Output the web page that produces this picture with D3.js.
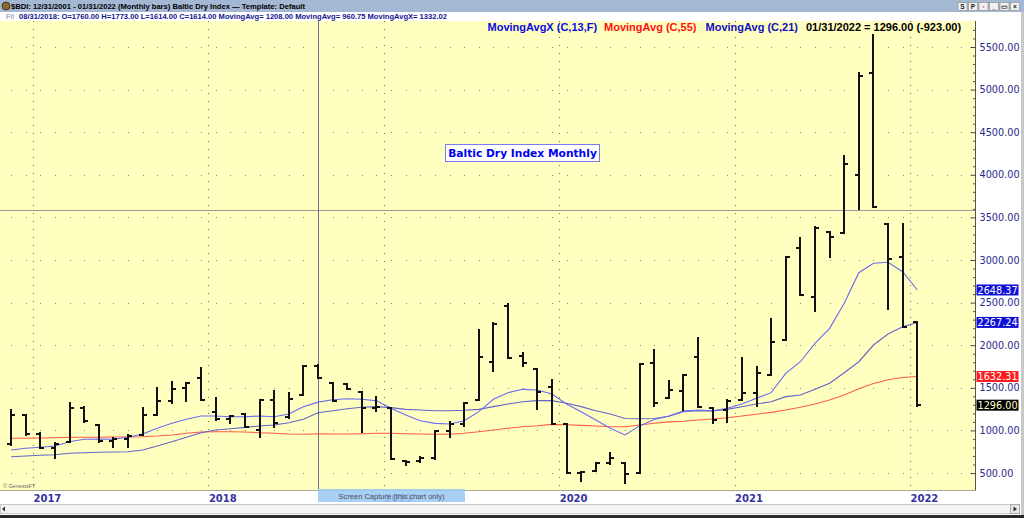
<!DOCTYPE html>
<html><head><meta charset="utf-8">
<script src="https://cdn.jsdelivr.net/npm/d3@7"></script>
<style>
html,body{margin:0;padding:0;background:#fff;overflow:hidden}
svg{display:block;font-family:"Liberation Sans",Arial,sans-serif}
</style></head><body>
<svg id="c" width="1024" height="518"></svg>
<script>
// ---------- data (monthly bars) ----------
const months = ["2016-11","2016-12",
 "2017-01","2017-02","2017-03","2017-04","2017-05","2017-06","2017-07","2017-08","2017-09","2017-10","2017-11","2017-12",
 "2018-01","2018-02","2018-03","2018-04","2018-05","2018-06","2018-07","2018-08","2018-09","2018-10","2018-11","2018-12",
 "2019-01","2019-02","2019-03","2019-04","2019-05","2019-06","2019-07","2019-08","2019-09","2019-10","2019-11","2019-12",
 "2020-01","2020-02","2020-03","2020-04","2020-05","2020-06","2020-07","2020-08","2020-09","2020-10","2020-11","2020-12",
 "2021-01","2021-02","2021-03","2021-04","2021-05","2021-06","2021-07","2021-08","2021-09","2021-10","2021-11","2021-12",
 "2022-01"];
const opens  = [840,1181, 961,795,868,1260,1063,875,900,946,1181,1340,1494,1611,
 1220,1130,1192,1005,1357,1157,1415,1760,1560,1540,1455,1260,
 1267,641,640,680,990,1075,1357,1807,2460,1870,1717,1513,
 1075,504,520,620,621,496,1787,1376,1466,1857,1260,1239,
 1357,1435,1650,2061,3145,2562,3324,3313,3997,5198,3418,3031,
 2276];
const highs  = [1239,1181, 966,848,1318,1278,1063,906,946,1259,1494,1572,1560,1729,
 1380,1169,1192,1357,1462,1435,1756,1773,1560,1545,1455,1388,
 1267,641,692,997,1102,1325,2178,2264,2483,1912,1717,1591,
 1075,516,613,739,621,1775,1944,1580,1650,2080,1267,1357,
 1846,1740,2303,3039,3254,3391,3324,4224,5191,5640,3418,3418,
 2276];
const lows   = [829,946, 789,672,868,1102,868,809,809,946,1181,1318,1349,1357,
 1122,1083,1043,926,1044,1145,1415,1614,1345,1482,985,1232,
 660,590,633,660,926,1052,1357,1701,1846,1756,1247,1075,
 496,406,520,606,379,496,1286,1376,1239,1278,1091,1102,
 1357,1286,1650,2061,2589,2405,3031,3313,3598,3626,2421,2217,
 1286];
const closes = [1181,961, 795,840,1260,1105,875,895,930,1181,1340,1490,1560,1357,
 1130,1165,1043,1357,1090,1368,1756,1614,1350,1490,1259,1270,
 660,625,680,990,1075,1318,1857,2250,1850,1790,1455,1075,
 496,516,613,680,484,1775,1325,1474,1650,1278,1120,1349,
 1443,1670,2034,3039,2589,3371,3274,4122,5159,3626,3008,2219,
 1296];
const ma13x = [770,790,802,817,867,896,899,896,919,958,1025,1083,1130,1169,
 1169,1161,1161,1169,1161,1192,1278,1332,1360,1372,1365,1349,
 1259,1181,1114,1083,1075,1114,1220,1365,1443,1482,1474,1427,
 1310,1220,1122,1025,946,1053,1128,1170,1228,1239,1231,1259,
 1310,1377,1443,1670,1806,2022,2198,2492,2851,2961,2973,2863,
 2648];
const ma21 = [691,700,708,715,731,738,743,746,750,770,817,867,919,973,
 1005,1020,1036,1052,1063,1090,1130,1208,1231,1255,1271,1279,
 1267,1247,1239,1231,1231,1236,1247,1279,1310,1337,1349,1349,
 1318,1279,1231,1192,1140,1136,1140,1167,1220,1231,1228,1247,
 1278,1310,1337,1396,1415,1482,1553,1677,1806,2002,2131,2217,
 2267];
const ma55 = [907,907,911,914,919,919,919,923,923,926,934,946,966,981,
 985,985,981,973,966,958,955,961,958,958,961,966,
 966,961,958,954,954,966,985,1005,1025,1043,1055,1071,
 1067,1059,1052,1043,1043,1063,1083,1100,1108,1122,1134,1149,
 1169,1189,1212,1239,1271,1310,1357,1415,1490,1550,1595,1620,
 1632];
const yTicks = [500,1000,1500,2000,2500,3000,3500,4000,4500,5000,5500];
const yearTicks = [2017,2018,2019,2020,2021,2022];
const lastLabels = [
  {v:2648.37, bg:"#1010d8", fg:"#ffffff"},
  {v:2267.24, bg:"#1010d8", fg:"#ffffff"},
  {v:1632.31, bg:"#ff1c1c", fg:"#ffffff"},
  {v:1296.00, bg:"#000000", fg:"#ffffc8"}
];
const crossValue = 3590;

// ---------- drawing ----------
const svg = d3.select("#c");
const plotR = 975, plotT = 21, plotB = 490;
const x = d3.scaleLinear().domain([2017, 2022]).range([33, 910]);
const y = d3.scaleLinear().domain([500, 5500]).range([473, 47]);
const mx = m => { const p = m.split("-").map(Number); return x(p[0] + (p[1] - 0.5) / 12); };

svg.append("rect").attr("width",1024).attr("height",518).attr("fill","#ffffff");
// title bar
svg.append("rect").attr("x",0).attr("y",0).attr("width",1024).attr("height",12).attr("fill","#a4b7d3");
svg.append("circle").attr("cx",6).attr("cy",6).attr("r",4).attr("fill","#8a6a2a").attr("stroke","#3a2a0a").attr("stroke-width",0.8);
svg.append("text").attr("x",11).attr("y",9).attr("font-size",8).attr("font-weight","bold").attr("fill","#000")
  .attr("textLength",294).attr("lengthAdjust","spacingAndGlyphs")
  .text("$BDI:  12/31/2001 - 01/31/2022  (Monthly bars)   Baltic Dry Index  \u2014  Template: Default");
// window buttons
const btns = ["S","P","\u25AB","_","\u25AD","\u00D7"];
btns.forEach((b,i)=>{
  const bx = 958 + i*10.5;
  svg.append("rect").attr("x",bx).attr("y",2.5).attr("width",9).attr("height",8).attr("fill","#f0f0f0").attr("stroke","#8a8a8a").attr("stroke-width",0.6);
  svg.append("text").attr("x",bx+4.5).attr("y",9).attr("text-anchor","middle").attr("font-size",6.5).attr("font-weight","bold").attr("fill", i==2?"#c00000":"#222").text(b);
});
// info line
svg.append("text").attr("x",6).attr("y",18.5).attr("font-size",7).attr("fill","#7a7a9a").text("Fri");
svg.append("text").attr("x",19).attr("y",18.5).attr("font-size",8).attr("font-weight","bold").attr("fill","#14148c")
  .attr("textLength",428).attr("lengthAdjust","spacingAndGlyphs")
  .text("08/31/2018:  O=1760.00  H=1773.00  L=1614.00  C=1614.00  MovingAvg= 1208.00  MovingAvg= 960.75  MovingAvgX= 1332.02");

// plot background
svg.append("rect").attr("x",0).attr("y",plotT).attr("width",plotR).attr("height",plotB-plotT).attr("fill","#ffffc0");

// grid: horizontal dotted rows at each price tick, dots on monthly positions
const gridMonths = d3.range(-2, 66).map(i => x(2016 + 10/12 + (i + 0.5)/12)).filter(v => v > 2 && v < plotR - 3);
const gdots = svg.append("g").attr("fill","#8c8c7a");
yTicks.forEach(t => {
  gridMonths.forEach(gx => gdots.append("rect").attr("x",Math.round(gx)).attr("y",Math.round(y(t))).attr("width",1).attr("height",1));
});
// vertical year grid
svg.append("g").selectAll("line").data(yearTicks).join("line")
  .attr("x1",d=>Math.round(x(d))+0.5).attr("x2",d=>Math.round(x(d))+0.5)
  .attr("y1",plotT).attr("y2",plotB)
  .attr("stroke","#6e6e60").attr("stroke-width",1).attr("stroke-dasharray","1,7");

// crosshair
svg.append("line").attr("x1",0).attr("x2",plotR).attr("y1",Math.round(y(crossValue))+0.5).attr("y2",Math.round(y(crossValue))+0.5)
  .attr("stroke","#9a9a9a").attr("stroke-width",1);
svg.append("line").attr("x1",Math.round(mx("2018-08"))+0.5).attr("x2",Math.round(mx("2018-08"))+0.5).attr("y1",plotT).attr("y2",plotB)
  .attr("stroke","#6a7090").attr("stroke-width",1);

// moving averages
const line = d3.line().x((d,i)=>mx(months[i])).y(d=>y(d)).curve(d3.curveLinear);
svg.append("path").datum(ma55).attr("d",line).attr("fill","none").attr("stroke","#ff5a4a").attr("stroke-width",1.1);
svg.append("path").datum(ma21).attr("d",line).attr("fill","none").attr("stroke","#6464c8").attr("stroke-width",1.1);
svg.append("path").datum(ma13x).attr("d",line).attr("fill","none").attr("stroke","#6a6af4").attr("stroke-width",1.1);

// OHLC bars
const bars = svg.append("g").attr("stroke","#111").attr("stroke-width",2).attr("shape-rendering","crispEdges");
months.forEach((m,i)=>{
  const bx = Math.round(mx(m));
  bars.append("line").attr("x1",bx).attr("x2",bx).attr("y1",y(highs[i])-1).attr("y2",y(lows[i])+1);
  bars.append("line").attr("x1",bx-4).attr("x2",bx).attr("y1",Math.round(y(opens[i]))).attr("y2",Math.round(y(opens[i])));
  bars.append("line").attr("x1",bx).attr("x2",bx+4).attr("y1",Math.round(y(closes[i]))).attr("y2",Math.round(y(closes[i])));
});

// plot border bottom
svg.append("line").attr("x1",0).attr("x2",plotR+1).attr("y1",plotB+0.5).attr("y2",plotB+0.5).attr("stroke","#a8a890");

// right axis
const axR = svg.append("g").attr("transform",`translate(${plotR+0.5},0)`)
  .call(d3.axisRight(y).tickValues(yTicks).tickFormat(d3.format(".2f")).tickSizeInner(-5).tickSizeOuter(0).tickPadding(4));
axR.select(".domain").attr("stroke","#555").attr("d",`M0,${plotT}V${plotB}`);
axR.selectAll(".tick line").attr("stroke","#444");
axR.selectAll(".tick text").attr("fill","#28288a").attr("font-family","'DejaVu Sans',Verdana,sans-serif").attr("font-size",9.7);
const minor = d3.range(500, 5701, 100).filter(v => v % 500 !== 0);
svg.append("g").attr("transform",`translate(${plotR+0.5},0)`)
  .call(d3.axisRight(y).tickValues(minor).tickFormat("").tickSizeInner(-2.5).tickSizeOuter(0))
  .call(g=>g.select(".domain").remove())
  .selectAll(".tick line").attr("stroke","#555");

// last value boxes
lastLabels.forEach(l=>{
  const cy = y(l.v);
  svg.append("rect").attr("x",976.5).attr("y",cy-5.5).attr("width",42).attr("height",11).attr("fill",l.bg);
  svg.append("text").attr("x",977.5).attr("y",cy+3.8).attr("font-family","'DejaVu Sans',Verdana,sans-serif").attr("font-size",9.7)
    .attr("fill",l.fg).text(d3.format(".2f")(l.v));
});

// bottom axis
const axB = svg.append("g").attr("transform",`translate(0,${plotB})`)
  .call(d3.axisBottom(x).tickValues(yearTicks).tickFormat(d3.format("d")).tickSize(0).tickPadding(3));
axB.select(".domain").remove();
axB.selectAll(".tick text").attr("text-anchor","start").attr("dy","0.78em").attr("y",4)
  .attr("fill","#3434a0").attr("font-family","'DejaVu Sans',Verdana,sans-serif").attr("font-size",10).attr("font-weight","bold");

// legend
const legend = [
  {t:"MovingAvgX (C,13,F)", c:"#0a0ae6", x:487.5},
  {t:"MovingAvg (C,55)", c:"#ff1010", x:604},
  {t:"MovingAvg (C,21)", c:"#1010c0", x:705.5},
  {t:"01/31/2022 = 1296.00 (-923.00)", c:"#000000", x:806}
];
legend.forEach(l=> svg.append("text").attr("x",l.x).attr("y",31).attr("font-size",11).attr("font-weight","bold").attr("fill",l.c).text(l.t));

// chart title box
svg.append("rect").attr("x",445.5).attr("y",144.5).attr("width",154).attr("height",17).attr("fill","#ffffff").attr("stroke","#7a7aee");
svg.append("text").attr("x",522.5).attr("y",157).attr("text-anchor","middle").attr("font-family","'DejaVu Sans',Verdana,sans-serif")
  .attr("font-weight","bold").attr("font-size",10.7).attr("fill","#0000f0").text("Baltic Dry Index Monthly");

// footer pieces
svg.append("text").attr("x",3).attr("y",488).attr("font-size",5.5).attr("fill","#6a6a6a").text("\u00A9 GenesisFT");
svg.append("rect").attr("x",318).attr("y",489).attr("width",147).attr("height",13).attr("fill","#9ccaf2").attr("opacity",0.88);
svg.append("text").attr("x",391.5).attr("y",498.5).attr("text-anchor","middle").attr("font-size",7.5).attr("fill","#4a4a60").text("Screen Capture (this chart only)");
// scrollbar
svg.append("rect").attr("x",0.5).attr("y",504.5).attr("width",1019).attr("height",9).attr("fill","#f4f4f4").attr("stroke","#c8c8c8");
svg.append("path").attr("d","M2,509 L5,506.5 L5,511.5Z").attr("fill","#333");
svg.append("rect").attr("x",1010.5).attr("y",504.5).attr("width",9).attr("height",9).attr("fill","#e8e8e8").attr("stroke","#aaa");
svg.append("path").attr("d","M1017,509 L1013.5,506.5 L1013.5,511.5Z").attr("fill","#333");
svg.append("rect").attr("x",0).attr("y",515).attr("width",1024).attr("height",3).attr("fill","#2a2a2a");
svg.append("rect").attr("x",1021).attr("y",12).attr("width",3).attr("height",503).attr("fill","#c8c8c8");
</script>
</body></html>
